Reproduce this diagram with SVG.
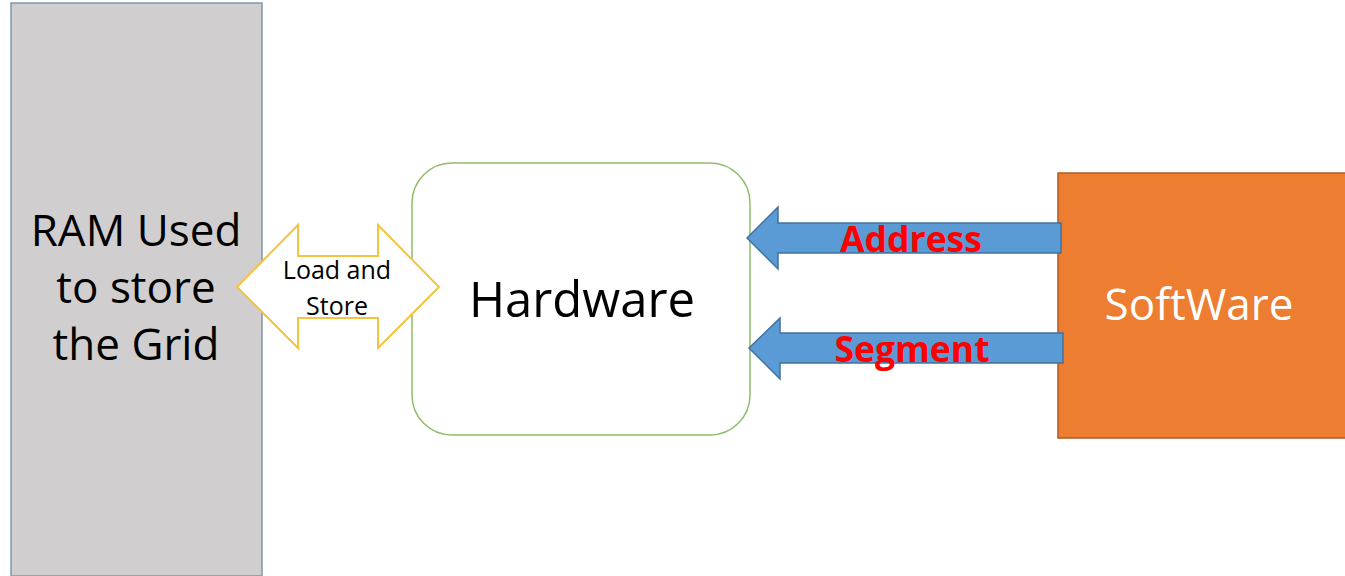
<svg xmlns="http://www.w3.org/2000/svg" width="1345" height="576" viewBox="0 0 1345 576">
<style>
text{font-family:"Open Sans","Liberation Sans",sans-serif}
.big{font-size:44px;fill:#000}
.lbl{font-size:49px;fill:#000}
.red{font-size:35.5px;font-weight:bold;fill:#ff0000}
.blue{fill:#5b9bd5;stroke:#41719c;stroke-width:1.5}
.ls{font-size:25px;fill:#000}
</style>
<rect width="1345" height="576" fill="#ffffff"/>
<g id="ram">
<rect x="11" y="3" width="251" height="573" fill="#d0cece" stroke="#7f97ad" stroke-width="1.5"/>
<text class="big" text-anchor="middle" x="136" y="246">RAM Used</text>
<text class="big" text-anchor="middle" x="136" y="303">to store</text>
<text class="big" text-anchor="middle" x="136" y="360">the Grid</text>
</g>
<g id="hardware">
<rect x="412" y="163" width="338" height="272" rx="40" ry="40" fill="#ffffff" stroke="#8fbc6a" stroke-width="1.5"/>
<text class="lbl" text-anchor="middle" x="582" y="317">Hardware</text>
</g>
<g id="software">
<rect x="1058" y="173" width="290" height="265" fill="#ed7d31" stroke="#ae5a21" stroke-width="1.5"/>
<text text-anchor="middle" x="1199" y="320" style="fill:#ffffff;font-size:44px">SoftWare</text>
</g>
<g id="connectors">
<g id="load-store">
<polygon points="237,287 298,225 298,256 378,256 378,225 439,287 378,348 378,318 298,318 298,348" fill="#ffffff" stroke="#f5c242" stroke-width="2"/>
<text class="ls" text-anchor="middle" x="337" y="279">Load and</text>
<text class="ls" text-anchor="middle" x="337" y="315">Store</text>
</g>
<g id="address">
<polygon class="blue" points="747,238 778,207 778,223 1061,223 1061,253 778,253 778,269"/>
<text class="red" text-anchor="middle" x="911" y="252">Address</text>
</g>
<g id="segment">
<polygon class="blue" points="749,348 780,318 780,333 1063,333 1063,363 780,363 780,379"/>
<text class="red" text-anchor="middle" x="912" y="362">Segment</text>
</g>
</g>
</svg>
